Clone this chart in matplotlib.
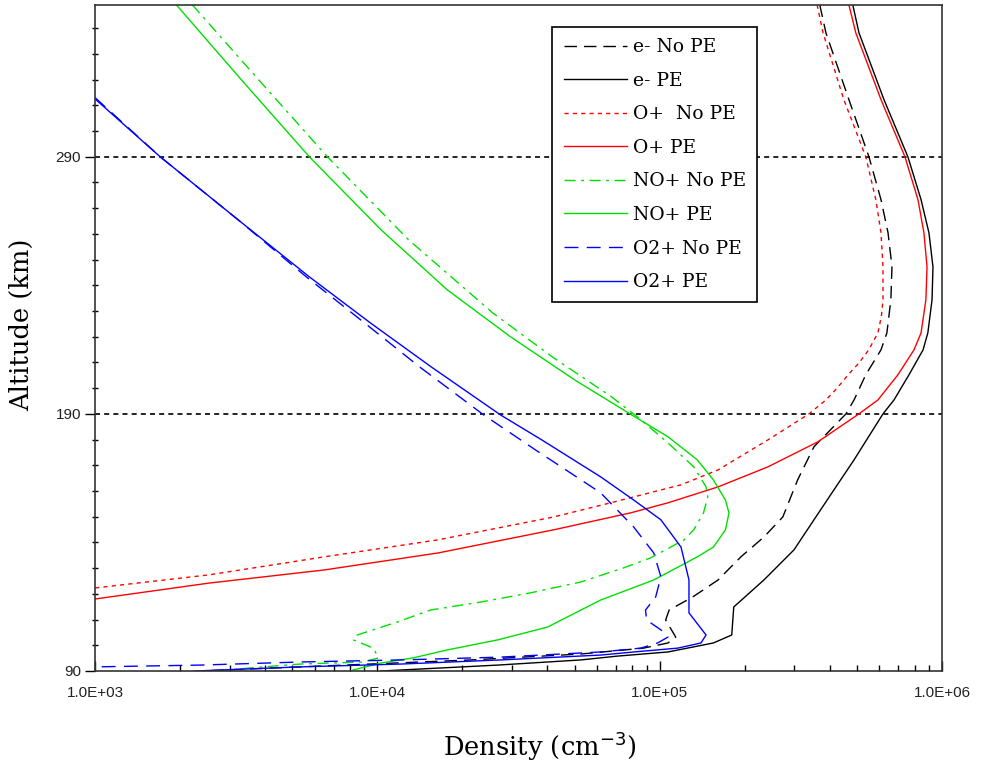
import numpy as np
import matplotlib.pyplot as plt
from matplotlib.ticker import FuncFormatter, MultipleLocator, LogLocator, FixedLocator

# electron density, no photoelectrons
e_nope_alt = [349.1, 338.2, 312.2, 290.0, 273.3, 260.4, 247.2, 234.4, 221.5, 214.9, 205.2, 195.4, 190.0,
              177.2, 164.3, 149.9, 142.1, 134.4, 125.4, 118.8, 113.7, 109.8, 103.2, 100.9, 98.9, 96.6,
              94.3, 91.6, 90.0]
e_nope_den = [3.69e5, 3.88e5, 4.68e5, 5.51e5, 6.08e5, 6.44e5, 6.65e5, 6.59e5, 6.38e5, 6.08e5, 5.37e5,
              4.88e5, 4.57e5, 3.52e5, 3.08e5, 2.73e5, 2.34e5, 1.94e5, 1.61e5, 1.31e5, 1.08e5, 1.05e5,
              1.14e5, 1.07e5, 8.77e4, 5.25e4, 2.14e4, 5.33e3, 2.36e3]

# electron density, with photoelectrons
e_pe_alt = [349.1, 338.2, 312.2, 290.0, 273.3, 260.4, 247.2, 234.4, 221.5, 214.9, 205.2, 195.4, 190.0,
            172.1, 160.4, 148.8, 137.1, 125.4, 114.9, 104.0, 100.9, 97.4, 95.8, 94.3, 92.3, 90.0]
e_pe_den = [4.83e5, 5.08e5, 6.23e5, 7.57e5, 8.43e5, 8.99e5, 9.29e5, 9.22e5, 8.91e5, 8.57e5, 7.64e5,
            6.76e5, 6.18e5, 4.88e5, 4.14e5, 3.52e5, 2.99e5, 2.34e5, 1.83e5, 1.80e5, 1.55e5, 1.07e5,
            7.1e4, 5.25e4, 2.67e4, 1.03e4]

# O+
op_nope_alt = [349.1, 338.2, 312.2, 290.0, 273.3, 260.4, 247.2, 234.4, 228.0, 221.5, 214.9, 210.0, 205.2,
               200.0, 195.4, 190.0, 179.9, 168.2, 162.4, 155.4, 149.9, 141.0, 134.4, 127.4, 122.3]
op_nope_den = [3.61e5, 3.79e5, 4.49e5, 5.37e5, 5.83e5, 6.08e5, 6.18e5, 6.18e5, 6.10e5, 5.93e5, 5.50e5,
               5.10e5, 4.65e5, 4.25e5, 3.88e5, 3.38e5, 2.42e5, 1.61e5, 1.19e5, 6.70e4, 4.21e4, 1.64e4,
               6.49e3, 2.54e3, 1.0e3]
op_pe_alt = [349.1, 338.2, 312.2, 290.0, 273.3, 260.4, 247.2, 234.4, 221.5, 214.9, 205.2, 195.4, 190.0,
             179.1, 169.4, 161.6, 155.4, 151.5, 144.9, 135.9, 129.3, 124.2, 118.0]
op_pe_den = [4.68e5, 4.95e5, 6.08e5, 7.39e5, 8.22e5, 8.63e5, 8.85e5, 8.77e5, 8.43e5, 7.96e5, 6.98e5,
             5.93e5, 5.08e5, 3.63e5, 2.42e5, 1.61e5, 1.07e5, 7.89e4, 4.21e4, 1.64e4, 6.49e3, 2.54e3, 1.0e3]

# NO+
nop_nope_alt = [349.1, 319.9, 290.0, 257.7, 229.3, 211.8, 196.6, 188.4, 178.7, 169.4, 161.6, 157.7, 151.5,
                144.9, 141.0, 134.0, 130.1, 124.6, 120.4, 116.8, 113.7, 109.1, 104.0, 102.1, 98.9, 95.1,
                93.5, 92.7, 91.2, 90.0]
nop_nope_den = [2.21e3, 3.8e3, 6.65e3, 1.29e4, 2.56e4, 4.21e4, 6.76e4, 8.43e4, 1.07e5, 1.32e5, 1.46e5,
                1.48e5, 1.43e5, 1.32e5, 1.22e5, 9.29e4, 7.45e4, 5.25e4, 3.49e4, 2.32e4, 1.54e4, 1.18e4,
                8.49e3, 8.22e3, 9.68e3, 1.01e4, 8.9e3, 5.33e3, 3.55e3, 2.77e3]
nop_pe_alt = [349.1, 319.9, 290.0, 261.6, 238.2, 220.0, 203.2, 189.6, 181.1, 172.1, 164.3, 156.5, 151.5,
              144.9, 138.2, 134.4, 125.4, 117.6, 107.1, 102.1, 98.2, 95.1, 93.1, 90.4]
nop_pe_den = [1.94e3, 3.3e3, 5.74e3, 1.03e4, 1.77e4, 2.96e4, 5.0e4, 7.96e4, 1.07e5, 1.36e5, 1.55e5,
              1.71e5, 1.76e5, 1.71e5, 1.55e5, 1.36e5, 9.53e4, 6.18e4, 4.01e4, 2.67e4, 1.77e4, 1.34e4,
              1.03e4, 8.2e3]

# O2+
o2p_nope_alt = [313.0, 290.0, 265.5, 243.3, 225.4, 208.3, 189.6, 176.0, 159.3, 146.0, 135.9, 126.6, 118.8,
                113.7, 109.8, 106.0, 103.2, 100.9, 98.9, 97.4, 95.4, 94.3, 93.5, 92.3, 91.6]
o2p_nope_den = [1.0e3, 1.70e3, 3.21e3, 5.6e3, 9.0e3, 1.41e4, 2.38e4, 3.63e4, 6.18e4, 8.09e4, 9.53e4,
                1.01e5, 9.68e4, 8.91e4, 8.99e4, 1.01e5, 1.07e5, 9.84e4, 8.57e4, 6.18e4, 2.73e4, 1.21e4,
                5.33e3, 2.36e3, 1.0e3]
o2p_pe_alt = [312.5, 290.0, 265.5, 243.3, 225.4, 208.3, 189.6, 179.9, 165.5, 156.5, 148.8, 138.2, 125.4,
              112.6, 104.0, 100.9, 98.9, 97.4, 96.2, 94.3, 92.7, 91.6, 90.0]
o2p_pe_den = [1.0e3, 1.70e3, 3.21e3, 5.74e3, 9.44e3, 1.55e4, 2.73e4, 3.82e4, 6.18e4, 8.09e4, 1.01e5,
              1.19e5, 1.27e5, 1.27e5, 1.46e5, 1.40e5, 1.16e5, 8.09e4, 6.18e4, 2.73e4, 1.21e4, 5.33e3, 2.26e3]

ref_alts = [190, 290]

GREEN = '#00e000'

fig = plt.figure(figsize=(9.87, 7.67), dpi=100)
ax = fig.add_axes([95/987, 1 - 671/767, 847/987, 666/767])

ax.plot(e_nope_den, e_nope_alt, color='black', lw=1, ls=(0, (9, 5)), label='e- No PE')
ax.plot(e_pe_den, e_pe_alt, color='black', lw=1, label='e- PE')
ax.plot(op_nope_den, op_nope_alt, color='red', lw=1, ls=(0, (3, 3)), label='O+  No PE')
ax.plot(op_pe_den, op_pe_alt, color='red', lw=1, label='O+ PE')
ax.plot(nop_nope_den, nop_nope_alt, color=GREEN, lw=1, ls=(0, (8, 4, 2, 4)), label='NO+ No PE')
ax.plot(nop_pe_den, nop_pe_alt, color=GREEN, lw=1, label='NO+ PE')
ax.plot(o2p_nope_den, o2p_nope_alt, color='blue', lw=1, ls=(0, (10, 6)), label='O2+ No PE')
ax.plot(o2p_pe_den, o2p_pe_alt, color='blue', lw=1, label='O2+ PE')

for a in ref_alts:
    ax.axhline(a, color='black', lw=1.2, ls=(0, (3, 2.5)), zorder=0.5)

ax.set_xscale('log')
ax.set_xlim(1e3, 1e6)
ax.set_ylim(90, 349)

ax.xaxis.set_major_locator(FixedLocator([1e3, 1e4, 1e5, 1e6]))
ax.xaxis.set_minor_locator(LogLocator(base=10, subs=np.arange(2, 10)))
ax.xaxis.set_major_formatter(FuncFormatter(lambda v, p: f"{v:.1E}"))
ax.xaxis.set_minor_formatter(FuncFormatter(lambda v, p: ""))
ax.yaxis.set_major_locator(FixedLocator([90, 190, 290]))
ax.yaxis.set_minor_locator(MultipleLocator(10))

ax.tick_params(axis='x', which='major', direction='in', length=7, width=1, pad=11, labelsize=11)
ax.tick_params(axis='x', which='minor', direction='in', length=4, width=1)
ax.tick_params(axis='y', which='major', direction='out', length=7, width=1, pad=3, labelsize=11)
ax.tick_params(axis='y', which='minor', direction='inout', length=5, width=1)
for lab in ax.get_xticklabels() + ax.get_yticklabels():
    lab.set_family('Liberation Sans')
    lab.set_color('#222222')

for s in ax.spines.values():
    s.set_color('#333333')
    s.set_linewidth(1.2)

ax.set_xlabel('Density (cm$^{-3}$)', family='DejaVu Serif', fontsize=18.5)
ax.set_ylabel('Altitude (km)', family='DejaVu Serif', fontsize=18.5)
ax.xaxis.set_label_coords(0.525, -0.088)
ax.yaxis.set_label_coords(-0.072, 0.52)

leg = ax.legend(loc='upper right', bbox_to_anchor=(0.782, 0.967), fancybox=False,
                edgecolor='black', framealpha=1, handlelength=3.4, labelspacing=0.83,
                borderpad=0.6, handletextpad=0.3, borderaxespad=0,
                prop={'family': 'DejaVu Serif', 'size': 13.5})
leg.get_frame().set_linewidth(1.2)

fig.savefig('out.png', dpi=100)
